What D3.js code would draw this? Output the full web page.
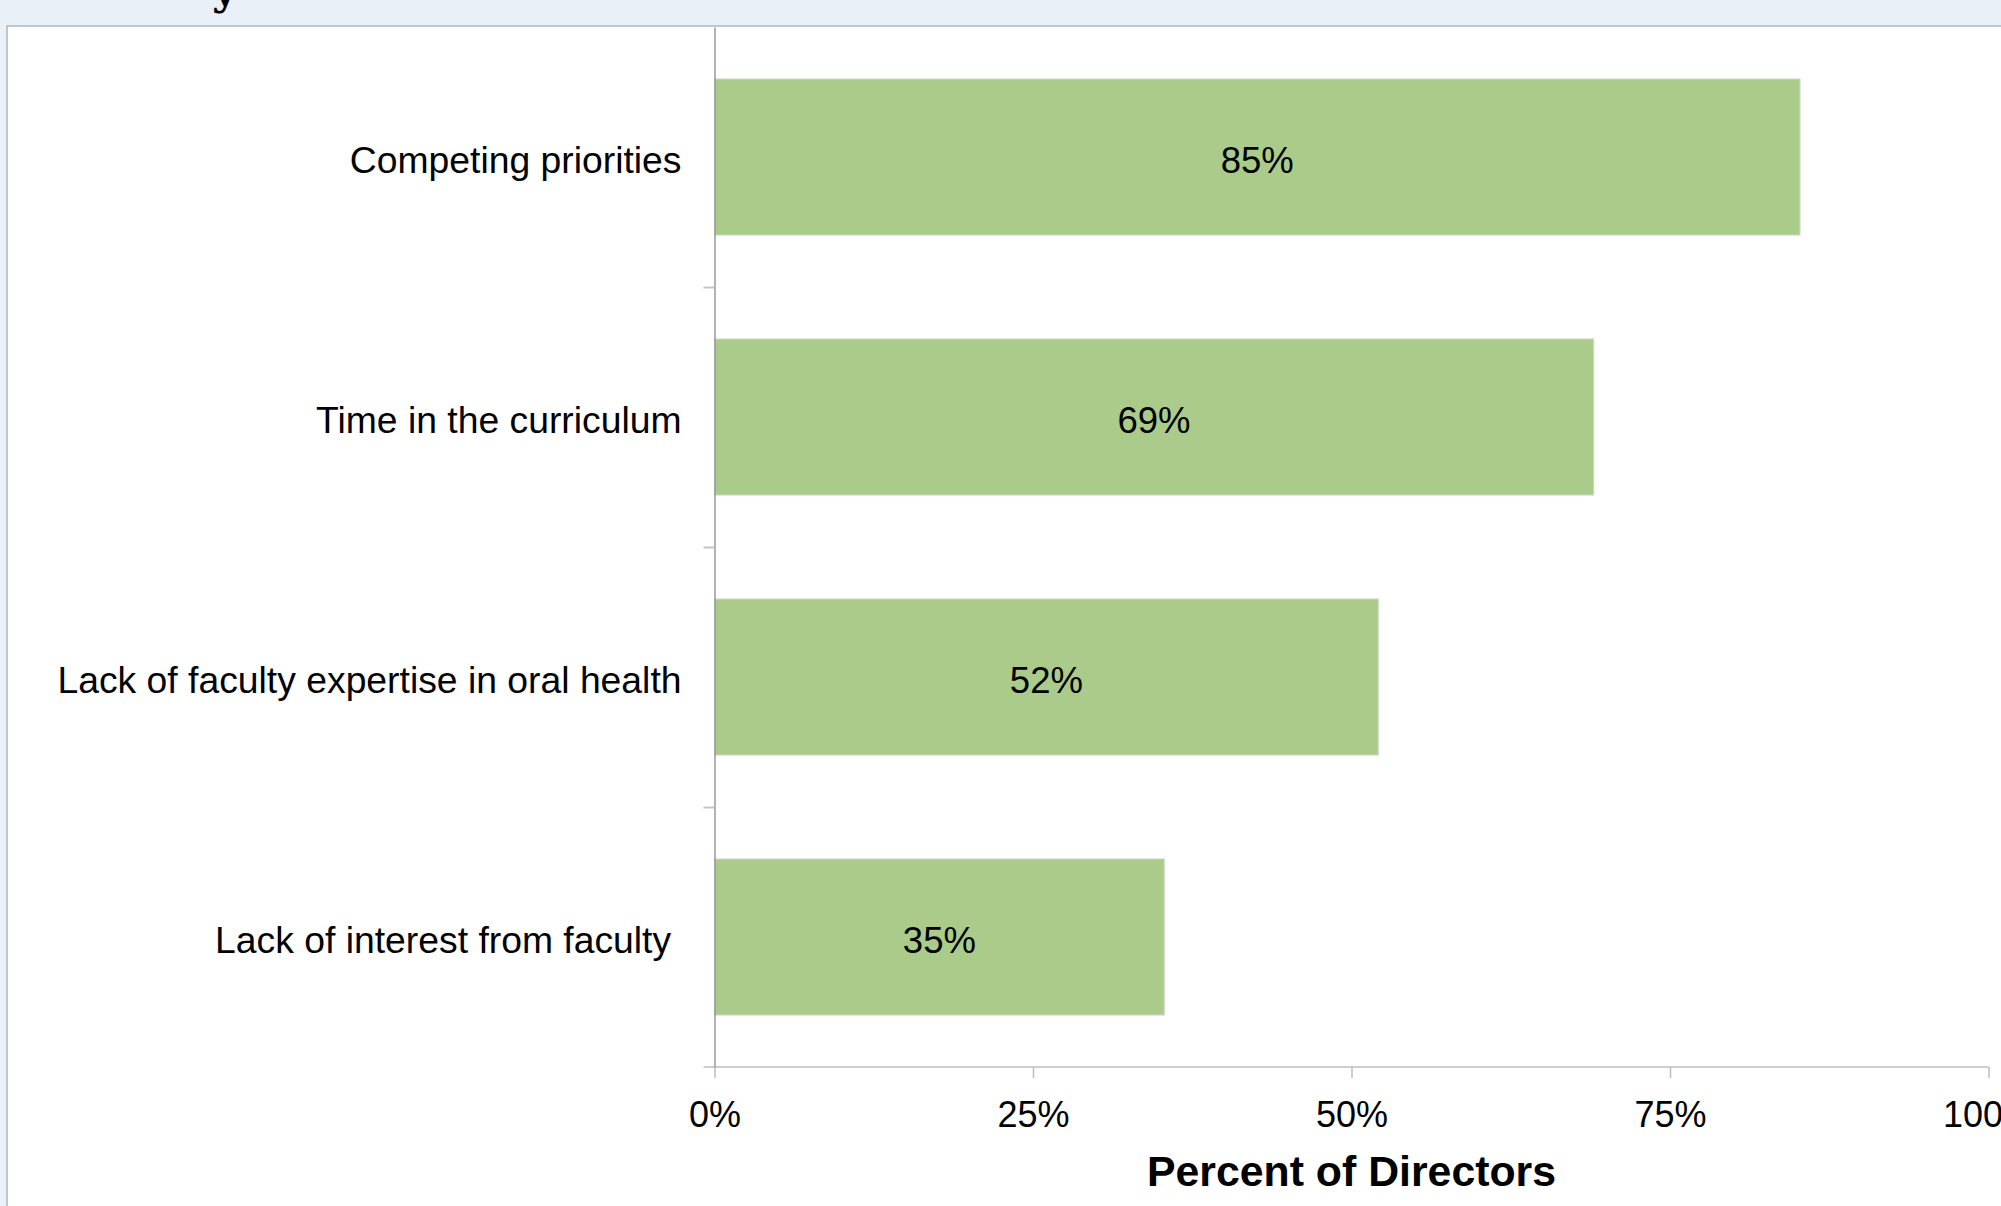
<!DOCTYPE html>
<html>
<head>
<meta charset="utf-8">
<script src="https://cdn.jsdelivr.net/npm/d3@7"></script>
<style>
  html, body { margin: 0; padding: 0; background: #e9f0f8; overflow: hidden; }
  svg { display: block; }
  text { font-family: "Liberation Sans", Arial, sans-serif; fill: #000; }
</style>
</head>
<body>
<svg id="chart" width="2001" height="1206"></svg>
<script>
// chart values
var categories = ['Competing priorities', 'Time in the curriculum',
  'Lack of faculty expertise in oral health', 'Lack of interest from faculty '];
var percents = [0.852, 0.69, 0.521, 0.353];
var xTicks = [0, 0.25, 0.5, 0.75, 1];
var axisTitle = 'Percent of Directors';

(function() {
  'use strict';

  var svg = d3.select('#chart');
  var W = 2001, H = 1206;
  var m = {left: 714.5, right: 1988.5, top: 27, bottom: 1067};

  // white panel with grey frame
  svg.append('rect')
    .attr('x', 7).attr('y', 26)
    .attr('width', W).attr('height', H)
    .attr('fill', '#fff')
    .attr('stroke', '#c2c6cb')
    .attr('stroke-width', 2);

  // tail of the cut-off title above the panel
  svg.append('text')
    .attr('x', 212).attr('y', 4)
    .style('font-family', '"DejaVu Serif", serif')
    .style('font-weight', 'bold')
    .style('font-size', '44px')
    .text('y');

  var x = d3.scaleLinear().domain([0, 1]).range([m.left, m.right]);
  var y = d3.scaleBand().domain(categories).range([m.top, m.bottom])
    .paddingInner(0.4).paddingOuter(0.2);
  var yEdge = d3.scaleLinear().domain([0, categories.length]).range([m.top, m.bottom]);

  // bars
  svg.append('g').selectAll('rect')
    .data(percents)
    .join('rect')
    .attr('x', x(0))
    .attr('y', function(d, i) { return y(categories[i]); })
    .attr('width', function(d) { return x(d) - x(0); })
    .attr('height', y.bandwidth())
    .attr('fill', '#aacb89')
    .attr('stroke', '#cfd6c8')
    .attr('stroke-width', 1.2);

  // value labels in the middle of each bar
  svg.append('g').selectAll('text')
    .data(percents)
    .join('text')
    .attr('x', function(d) { return (x(0) + x(d)) / 2; })
    .attr('y', function(d, i) { return y(categories[i]) + y.bandwidth() / 2 + 2.5; })
    .attr('dy', '0.36em')
    .attr('text-anchor', 'middle')
    .style('font-size', '36.5px')
    .text(d3.format('.0%'));

  // category labels
  svg.append('g').selectAll('text')
    .data(categories)
    .join('text')
    .attr('x', m.left - 33)
    .attr('y', function(d) { return y(d) + y.bandwidth() / 2 + 2.5; })
    .attr('dy', '0.36em')
    .attr('text-anchor', 'end')
    .style('font-size', '37.3px')
    .style('white-space', 'pre')
    .text(function(d) { return d; });

  // x axis
  var gx = svg.append('g')
    .attr('transform', 'translate(0,' + m.bottom + ')')
    .call(d3.axisBottom(x).tickValues(xTicks).tickSize(11).tickSizeOuter(0)
      .tickFormat(d3.format('.0%')));
  gx.select('.domain').attr('stroke', '#bdbdbd').attr('stroke-width', 1.5)
    .attr('d', 'M' + (m.left - 11) + ',0H' + m.right);
  gx.selectAll('.tick line').attr('stroke', '#bdbdbd').attr('stroke-width', 1.5);
  gx.selectAll('.tick text')
    .attr('y', 0).attr('dy', '60px')
    .style('font-family', '"Liberation Sans", Arial, sans-serif')
    .style('font-size', '36px')
    .attr('fill', '#000');

  // y axis: ticks on category boundaries
  var gy = svg.append('g')
    .attr('transform', 'translate(' + m.left + ',0)')
    .call(d3.axisLeft(yEdge).tickValues(d3.range(1, categories.length)).tickSize(11)
      .tickSizeOuter(0).tickFormat(''));
  gy.select('.domain').attr('stroke', '#9a9a9a').attr('stroke-width', 1.5);
  gy.selectAll('.tick line').attr('stroke', '#c4c4c4').attr('stroke-width', 2);

  // axis title
  svg.append('text')
    .attr('x', (m.left + m.right) / 2)
    .attr('y', 1186)
    .attr('text-anchor', 'middle')
    .style('font-size', '42.8px')
    .style('font-weight', 'bold')
    .text(axisTitle);
})();
</script>
</body>
</html>
